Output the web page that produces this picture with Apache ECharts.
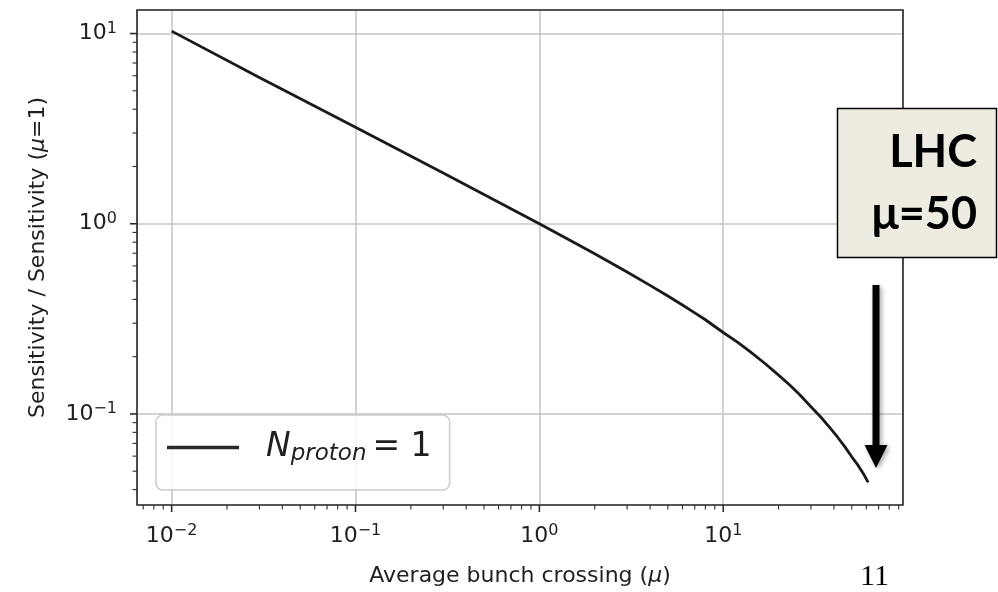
<!DOCTYPE html>
<html>
<head>
<meta charset="utf-8">
<script src="https://cdn.jsdelivr.net/npm/echarts@6/dist/echarts.min.js"></script>
<style>
  html, body { margin: 0; padding: 0; background: #ffffff; }
  #chart { width: 998px; height: 592px; }
</style>
</head>
<body>
<div id="chart"></div>
<script>
// Average number of bunch crossings (pile-up, mu)
const muValues = [0.01, 0.03, 0.1, 0.3, 1, 1.5, 2, 3, 4, 5, 6, 7, 8, 10, 12, 14, 17, 20, 23, 26, 30, 34, 38, 42, 46, 50, 54, 58, 61.4];
// Sensitivity normalised to the mu = 1 value
const sensitivityRatio = [10.3, 5.87, 3.22, 1.848, 1.0, 0.809, 0.695, 0.557, 0.474, 0.417, 0.374, 0.34, 0.3127, 0.268, 0.238, 0.2128, 0.183, 0.16, 0.1418, 0.1265, 0.109, 0.0961, 0.0848, 0.0752, 0.0669, 0.0595, 0.0538, 0.0483, 0.0437];

const seriesName = 'N_proton = 1';
const xAxisTitle = 'Average bunch crossing ({i|\u03bc})';
const yAxisTitle = 'Sensitivity / Sensitivity ({i|\u03bc}=1)';
const annotationLines = ['LHC', '\u03bc=50'];
const pageNumber = '11';

// log-axis extents and tick decades
const xRange = [0.00648, 95];
const yRange = [0.0332, 13.3];
const xTickExponents = [-3, -2, -1, 0, 1];
const yTickExponents = [-2, -1, 0, 1];
const minorMultipliers = [2, 3, 4, 5, 6, 7, 8, 9];

const FONT = 'DejaVu Sans';
const TEXT = '#1f1f1f';

function powerLabel(v) {
  const e = Math.log10(v);
  const r = Math.round(e);
  if (Math.abs(e - r) > 1e-6) return '';
  const exp = r < 0 ? '\u2212' + (-r) : String(r);
  return '{b|10}{s|' + exp + '}';
}

const labelRich = {
  b: { fontFamily: FONT, fontSize: 22, color: TEXT },
  s: { fontFamily: FONT, fontSize: 16, color: TEXT, padding: [0, 0, 10, 0] }
};

const titleStyle = {
  fontFamily: FONT, fontSize: 22, color: TEXT,
  rich: {
    i: { fontFamily: FONT, fontStyle: 'italic', fontSize: 22, color: TEXT }
  }
};

const chart = echarts.init(document.getElementById('chart'), null, { renderer: 'canvas' });

chart.setOption({
  animation: false,
  backgroundColor: '#ffffff',
  grid: { left: 137, right: 95, top: 10, bottom: 86, show: false },
  xAxis: {
    type: 'log', logBase: 10,
    min: xRange[0], max: xRange[1],
    name: xAxisTitle,
    nameLocation: 'middle', nameGap: 60,
    nameTextStyle: titleStyle,
    axisLine: { show: false },
    axisTick: { show: false },
    minorTick: { show: false },
    axisLabel: { margin: 18, formatter: powerLabel, rich: labelRich },
    splitLine: { show: true, lineStyle: { color: '#c4c4c4', width: 1.5 } }
  },
  yAxis: {
    type: 'log', logBase: 10,
    min: yRange[0], max: yRange[1],
    name: yAxisTitle,
    nameLocation: 'middle', nameGap: 88,
    nameTextStyle: titleStyle,
    axisLine: { show: false },
    axisTick: { show: false },
    minorTick: { show: false },
    axisLabel: { margin: 20, formatter: powerLabel, rich: labelRich },
    splitLine: { show: true, lineStyle: { color: '#c4c4c4', width: 1.5 } }
  },
  legend: {
    left: 156, top: 415,
    selectedMode: false,
    data: [{ name: seriesName, icon: 'rect' }],
    itemWidth: 72, itemHeight: 3.5,
    padding: [16, 18, 24, 11],
    backgroundColor: 'rgba(255,255,255,0.8)',
    borderColor: '#cccccc', borderWidth: 1.5, borderRadius: 7,
    formatter: function () { return '{n|N}{s|proton}{e|= 1}'; },
    textStyle: {
      rich: {
        n: { fontFamily: FONT, fontStyle: 'italic', fontSize: 33, color: TEXT, padding: [0, 0, 0, 22] },
        s: { fontFamily: FONT, fontStyle: 'italic', fontSize: 23, color: TEXT, padding: [14, 6, 0, 0] },
        e: { fontFamily: FONT, fontSize: 33, color: TEXT }
      }
    }
  },
  series: [{
    name: seriesName,
    type: 'line',
    data: muValues.map((m, i) => [m, sensitivityRatio[i]]),
    showSymbol: false,
    smooth: false,
    color: '#2a2a2a',
    lineStyle: { color: '#1a1a1a', width: 2.8, join: 'round' },
    z: 3
  }]
});

// Outward major and minor ticks of both log axes (decades and 2..9 sub-steps)
function tickValues(exps, range) {
  const out = [];
  exps.forEach(e => {
    const base = Math.pow(10, e);
    out.push({ v: base, major: true });
    minorMultipliers.forEach(k => out.push({ v: k * base, major: false }));
  });
  return out.filter(t => t.v >= range[0] && t.v <= range[1]);
}

const leftPx = chart.convertToPixel({ xAxisIndex: 0 }, xRange[0]);
const rightPx = chart.convertToPixel({ xAxisIndex: 0 }, xRange[1]);
const bottomPx = chart.convertToPixel({ yAxisIndex: 0 }, yRange[0]);
const topPx = chart.convertToPixel({ yAxisIndex: 0 }, yRange[1]);

const axisGraphics = [{
  type: 'rect', silent: true, z: 9,
  shape: { x: leftPx, y: topPx, width: rightPx - leftPx, height: bottomPx - topPx },
  style: { fill: 'none', stroke: '#2b2b2b', lineWidth: 1.6 }
}];
tickValues(xTickExponents, xRange).forEach(t => {
  const x = chart.convertToPixel({ xAxisIndex: 0 }, t.v);
  axisGraphics.push({
    type: 'line', silent: true, z: 10,
    shape: { x1: x, y1: bottomPx, x2: x, y2: bottomPx + (t.major ? 7 : 4.5) },
    style: { stroke: '#2b2b2b', lineWidth: t.major ? 1.6 : 1.1 }
  });
});
tickValues(yTickExponents, yRange).forEach(t => {
  const y = chart.convertToPixel({ yAxisIndex: 0 }, t.v);
  axisGraphics.push({
    type: 'line', silent: true, z: 10,
    shape: { x1: leftPx, y1: y, x2: leftPx - (t.major ? 7 : 4.5), y2: y },
    style: { stroke: '#2b2b2b', lineWidth: t.major ? 1.6 : 1.1 }
  });
});

// Callout box, arrow and slide number
const overlay = [
  {
    type: 'rect', z: 20, silent: true,
    shape: { x: 837.5, y: 108.5, width: 159, height: 149 },
    style: { fill: '#EEECE1', stroke: '#000000', lineWidth: 1.5 }
  },
  {
    type: 'text', z: 21, silent: true,
    style: {
      x: 977, y: 152, text: annotationLines[0],
      fontFamily: 'Lato', fontWeight: 'bold', fontSize: 45,
      fill: '#000000', align: 'right', verticalAlign: 'middle'
    }
  },
  {
    type: 'text', z: 21, silent: true,
    style: {
      x: 977, y: 214, text: annotationLines[1],
      fontFamily: 'Lato', fontWeight: 'bold', fontSize: 45,
      fill: '#000000', align: 'right', verticalAlign: 'middle'
    }
  },
  {
    type: 'polygon', z: 20, silent: true,
    shape: {
      points: [[872.5, 285], [879.5, 285], [879.5, 445], [887.5, 445], [876, 468], [864.5, 445], [872.5, 445]]
    },
    style: {
      fill: '#000000',
      shadowBlur: 5, shadowColor: 'rgba(0,0,0,0.35)', shadowOffsetX: 2, shadowOffsetY: 2
    }
  },
  {
    type: 'text', z: 21, silent: true,
    style: {
      x: 860, y: 592, text: pageNumber,
      fontFamily: 'Liberation Serif', fontSize: 30,
      fill: '#000000', align: 'left', verticalAlign: 'bottom'
    }
  }
];

chart.setOption({ graphic: overlay.concat(axisGraphics) });
</script>
</body>
</html>
